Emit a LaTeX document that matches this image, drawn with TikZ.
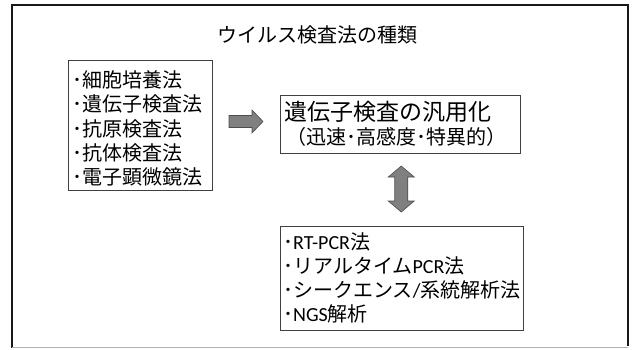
\documentclass[tikz,border=0pt]{standalone}
\usepackage{fontspec}
\setmainfont{Noto Sans CJK JP}
\newfontfamily\lat{Carlito}
\usetikzlibrary{calc}
\tikzset{
  x=1pt,y=-1pt,
  box/.style={draw=black!75,line width=0.8pt,inner sep=0pt},
  txt/.style={anchor=west,align=left,inner sep=0pt},
  blockarrow/.style={draw=black!70,fill=black!50,line width=0.6pt,line join=miter},
  frame/.style={line width=1.6pt,draw=black!90}
}
\begin{document}
\begin{tikzpicture}
\useasboundingbox (0,0) rectangle (634,349);
% outer frame
\draw[frame] (12,348) -- (12,5) -- (628,5) -- (628,346);
\draw[line width=1pt,draw=black!30] (12,347.5) -- (628,347.5);
% title
\node[inner sep=0pt,font=\fontsize{20}{24}\selectfont] (title) at (317,35) {ウイルス検査法の種類};
% left box
\node[box,minimum width=144pt,minimum height=130pt] (L) at (140,125) {};
\node[txt,font=\fontsize{20}{24.2}\selectfont] (Lt) at (72,128.5)
  {･細胞培養法\\･遺伝子検査法\\･抗原検査法\\･抗体検査法\\･電子顕微鏡法};
% top right box
\node[box,minimum width=240pt,minimum height=58pt] (T) at (400,124) {};
\node[txt,font=\fontsize{23}{24}\selectfont] (T1) at (284,112) {遺伝子検査の汎用化};
\node[txt,font=\fontsize{20}{24}\selectfont] (T2) at (286,137) {（迅速･高感度･特異的）};
% bottom box
\node[box,minimum width=243pt,minimum height=104pt] (B) at (401.5,278) {};
\node[txt,font=\fontsize{20}{24}\selectfont] (Bt) at (283,278)
  {･{\lat RT-PCR}法\\･リアルタイム{\lat PCR}法\\･シークエンス{\lat /}系統解析法\\･{\lat NGS}解析};
% block arrows
\coordinate (a1) at ($(L.east)!0.5!(T.west)+(0,-3)$);
\draw[blockarrow] ($(a1)+(-17,-6)$) -- ++(23,0) -- ++(0,-5.5) -- ++(11,11.5)
  -- ++(-11,11.5) -- ++(0,-5.5) -- ++(-23,0) -- cycle;
\coordinate (a2) at ($(T.south)!0.5!(B.north)+(0.5,0)$);
\draw[blockarrow] ($(a2)+(0,-23.5)$) -- ++(13,11) -- ++(-6.5,0) -- ++(0,24)
  -- ++(6.5,0) -- ++(-13,11) -- ++(-13,-11) -- ++(6.5,0) -- ++(0,-24)
  -- ++(-6.5,0) -- cycle;
\end{tikzpicture}
\end{document}
